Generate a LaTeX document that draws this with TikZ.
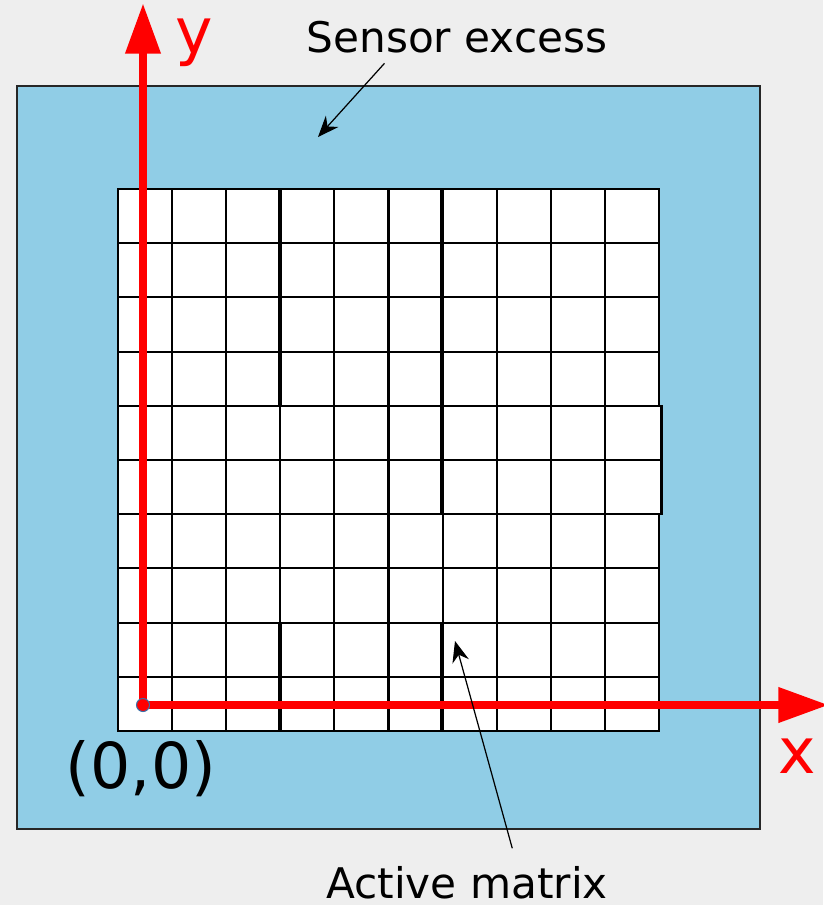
\documentclass[tikz,border=0pt]{standalone}
\usepackage{fontspec}
\setmainfont{DejaVu Sans}
\usepackage{tikz}
\usetikzlibrary{arrows.meta, positioning, calc}
\definecolor{bgfill}{HTML}{EEEEEE}
\definecolor{sensfill}{HTML}{90CDE6}
\definecolor{axisdraw}{HTML}{FF0000}
\definecolor{dotdraw}{HTML}{3B6FA8}
\tikzset{
  sensor/.style={draw=black!85, line width=0.45pt, fill=sensfill},
  pixel/.style={draw=black, line width=0.6pt, fill=white},
  gridln/.style={draw=black, line width=0.6pt},
  seam/.style={draw=black, line width=1.2pt},
  axis/.style={draw=axisdraw, line width=2.5pt, -{Triangle[length=14.4pt, width=9.5pt]}},
  axlab/.style={text=axisdraw, font=\fontsize{18}{20}\selectfont, inner sep=0pt, anchor=base},
  lab/.style={font=\fontsize{12}{14}\selectfont, inner sep=0pt, anchor=base},
  arr/.style={->, >={Stealth[length=6pt, width=4.8pt]}, line width=0.35pt, draw=black},
}

\begin{document}
\begin{tikzpicture}[x=0.01cm, y=-0.01cm]
  \useasboundingbox[fill=bgfill] (0,0) rectangle (823,905);

  % sensor and active matrix
  \draw[sensor] (17,86) rectangle (760,829);
  \draw[pixel] (118,189) rectangle (659,731);
  \foreach \k in {1,...,9} {
    \draw[gridln] ($(118,189)+(\k*54.1,0)$) -- ++(0,542);
    \draw[gridln] ($(118,189)+(0,\k*54.2)$) -- ++(541,0);
  }
  \fill[white] (656,407) rectangle (661,513);
  \draw[gridln] (605,406) -- (661.5,406) -- (661.5,514) -- (605,514);
  \draw[gridln] (605,460) -- (661.5,460);
  \draw[seam] (280,189) -- (280,406);
  \draw[seam] (280,622) -- (280,731);
  \draw[seam] (442,189) -- (442,514);
  \draw[seam] (442,622) -- (442,731);

  % axes
  \coordinate (origin) at (143,705);
  \coordinate (ytip) at (143,3);
  \coordinate (xtip) at (829,705);
  \draw[axis] (origin) -- (ytip);
  \draw[axis] (origin) -- (xtip);
  \filldraw[fill=axisdraw, draw=dotdraw, line width=0.3pt] (origin) circle (0.065cm);

  \node[axlab] (ylab) at (194,53) {y};
  \node[axlab] (xlab) at (797,773) {x};
  \node[lab, font=\fontsize{18}{20}\selectfont] (orig) at (141,788) {(0,0)};

  % labels
  \node[lab] (senslab) at (457,52) {Sensor excess};
  \node[lab] (actlab) at (467,898) {Active matrix};
  \coordinate (senspt) at (318,137);
  \coordinate (actpt) at (455,641);
  \draw[arr] ($(senslab.south west)!0.26!(senslab.south east)+(0,10)$) -- (senspt);
  \draw[arr] ($(actlab.north west)!0.66!(actlab.north east)+(0,-17)$) -- (actpt);
\end{tikzpicture}
\end{document}
